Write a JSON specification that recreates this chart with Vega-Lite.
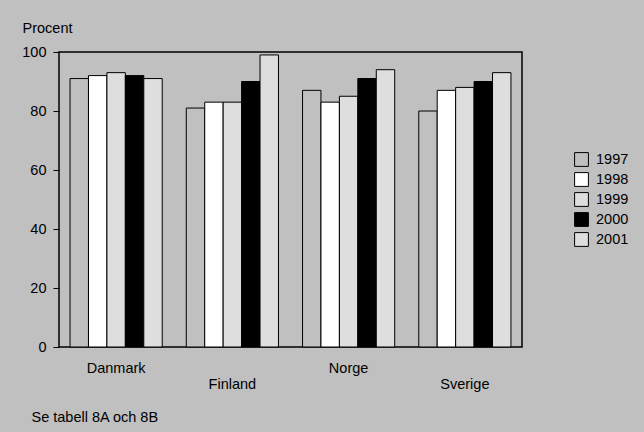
{
  "$schema": "https://vega.github.io/schema/vega-lite/v6.json",
  "width": 463,
  "height": 295,
  "autosize": {"type": "none"},
  "padding": {"left": 59, "top": 52, "right": 122, "bottom": 85},
  "background": "#c0c0c0",
  "config": {
    "view": {"stroke": "#000000", "strokeWidth": 1.5, "fill": "#c0c0c0"},
    "font": "Liberation Sans",
    "axis": {"labelFont": "Liberation Sans", "titleFont": "Liberation Sans", "labelColor": "#000000", "titleColor": "#000000"},
    "legend": {"labelFont": "Liberation Sans"}
  },
  "data": {
    "values": [
      {"land": "Danmark", "year": "1997", "value": 91},
      {"land": "Danmark", "year": "1998", "value": 92},
      {"land": "Danmark", "year": "1999", "value": 93},
      {"land": "Danmark", "year": "2000", "value": 92},
      {"land": "Danmark", "year": "2001", "value": 91},
      {"land": "Finland", "year": "1997", "value": 81},
      {"land": "Finland", "year": "1998", "value": 83},
      {"land": "Finland", "year": "1999", "value": 83},
      {"land": "Finland", "year": "2000", "value": 90},
      {"land": "Finland", "year": "2001", "value": 99},
      {"land": "Norge", "year": "1997", "value": 87},
      {"land": "Norge", "year": "1998", "value": 83},
      {"land": "Norge", "year": "1999", "value": 85},
      {"land": "Norge", "year": "2000", "value": 91},
      {"land": "Norge", "year": "2001", "value": 94},
      {"land": "Sverige", "year": "1997", "value": 80},
      {"land": "Sverige", "year": "1998", "value": 87},
      {"land": "Sverige", "year": "1999", "value": 88},
      {"land": "Sverige", "year": "2000", "value": 90},
      {"land": "Sverige", "year": "2001", "value": 93}
    ]
  },
  "mark": {"type": "bar", "stroke": "#000000", "strokeWidth": 1},
  "encoding": {
    "x": {
      "field": "land", "type": "nominal", "sort": null,
      "scale": {"paddingInner": 0.207, "paddingOuter": 0.095},
      "axis": {
        "title": "Se tabell 8A och 8B",
        "titleFontSize": 14.5, "titleFontWeight": "normal",
        "titleAnchor": "start", "titleAlign": "left", "titleBaseline": "middle",
        "titleX": -28, "titleY": 70,
        "labelAngle": 0, "labelFontSize": 14.5, "labelBaseline": "top",
        "labelPadding": {"condition": {"test": "datum.value == 'Finland' || datum.value == 'Sverige'", "value": 30}, "value": 14},
        "ticks": false, "domain": false
      }
    },
    "xOffset": {"field": "year", "type": "nominal", "scale": {"paddingInner": 0, "paddingOuter": 0}},
    "y": {
      "field": "value", "type": "quantitative",
      "scale": {"domain": [0, 100], "nice": false},
      "axis": {
        "values": [0, 20, 40, 60, 80, 100],
        "title": "Procent", "titleAngle": 0, "titleFontSize": 14.5, "titleFontWeight": "normal",
        "titleAlign": "left", "titleBaseline": "middle", "titleX": -37, "titleY": -24,
        "labelFontSize": 14.5, "labelPadding": 7, "tickSize": 6, "tickColor": "#000000",
        "grid": false, "domain": false
      }
    },
    "fill": {
      "field": "year", "type": "nominal",
      "scale": {"domain": ["1997", "1998", "1999", "2000", "2001"], "range": ["#c0c0c0", "#ffffff", "#dedede", "#000000", "#dedede"]},
      "legend": {
        "title": null, "orient": "none", "legendX": 515, "legendY": 100,
        "symbolType": "square", "symbolSize": 190, "symbolStrokeColor": "#000000", "symbolStrokeWidth": 1,
        "labelFontSize": 14.5, "labelColor": "#000000", "rowPadding": 1, "labelOffset": 7
      }
    }
  }
}
